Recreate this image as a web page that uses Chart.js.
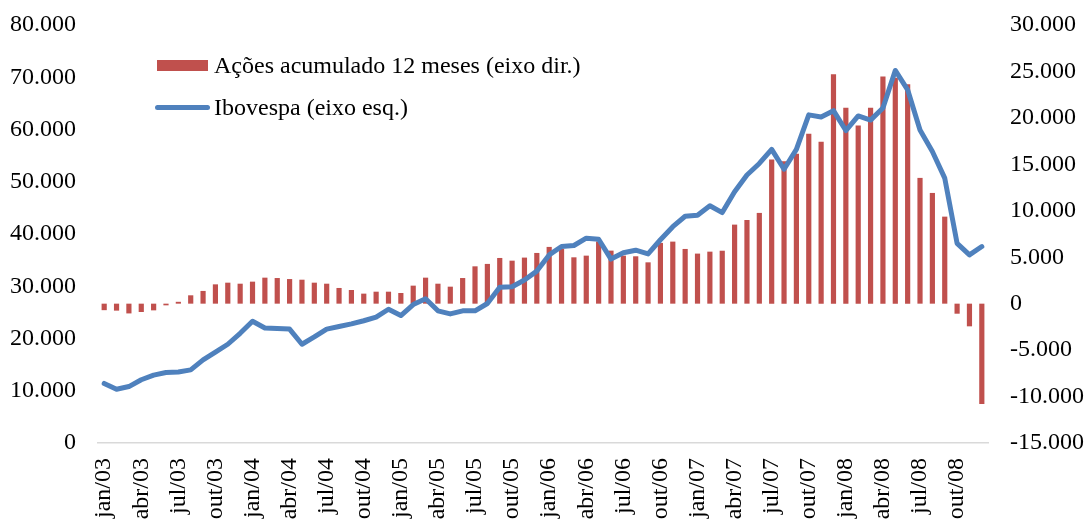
<!DOCTYPE html>
<html>
<head>
<meta charset="utf-8">
<script src="https://cdn.jsdelivr.net/npm/chart.js@4"></script>
<style>
    body { margin: 0; background: #fff; }
    #wrap { position: relative; width: 1090px; height: 520px; }
    .leg { position: absolute; font: 24px "Liberation Serif", "Times New Roman", serif; color: #000; white-space: nowrap; line-height: 24px; }
    .sw { position: absolute; }
</style>
</head>
<body>
<div id="wrap">
    <canvas id="acoesChart" width="1090" height="520"></canvas>
    <div id="legend"></div>
</div>
<script>
// meses jan/03 .. dez/08
const mesesNomes = ['jan', 'fev', 'mar', 'abr', 'mai', 'jun', 'jul', 'ago', 'set', 'out', 'nov', 'dez'];
const anos = ['03', '04', '05', '06', '07', '08'];
const meses = [];
anos.forEach(a => mesesNomes.forEach(m => meses.push(m + '/' + a)));

// Ibovespa (eixo esq.)
const ibovespa = [
    11400, 10300, 10800, 12100, 13000, 13500, 13600, 14000, 15900, 17400, 18900, 21000,
    23300, 22000, 21900, 21800, 18900, 20300, 21800, 22300, 22800, 23400, 24100, 25600,
    24400, 26500, 27600, 25300, 24700, 25300, 25300, 26700, 29800, 29900, 31200, 32900,
    36000, 37600, 37800, 39200, 39000, 35200, 36400, 36900, 36200, 38900, 41400, 43400,
    43600, 45400, 44100, 48100, 51300, 53500, 56200, 52400, 56200, 62800, 62400, 63600,
    59800, 62600, 61800, 64100, 71300, 67600, 59900, 55800, 50700, 38200, 36000, 37600
];

// Ações acumulado 12 meses (eixo dir.)
const acoes12m = [
    -700, -750, -1050, -900, -720, -180, 200, 900, 1370, 2080, 2260, 2150,
    2370, 2800, 2760, 2650, 2580, 2260, 2150, 1690, 1470, 1080, 1290, 1290,
    1150, 1940, 2800, 2150, 1830, 2760, 4020, 4280, 4920, 4630, 4960, 5460,
    6110, 5900, 4990, 5170, 6700, 5710, 5170, 5100, 4450, 6540, 6680, 5890,
    5390, 5600, 5700, 8510, 9010, 9770, 15520, 15340, 16130, 18280, 17420, 24710,
    21100, 19180, 21100, 24460, 24320, 23630, 13540, 11920, 9370, -1080, -2440, -10800
];

const labelAcoes = 'Ações acumulado 12 meses (eixo dir.)';
const labelIbov = 'Ibovespa (eixo esq.)';

const fonte = { family: '"Liberation Serif", "Times New Roman", serif', size: 24 };

function milhar(v) {
    const s = Math.abs(v).toString().replace(/\B(?=(\d{3})+(?!\d))/g, '.');
    return (v < 0 ? '-' : '') + s;
}

// largura fixa do eixo e sem folga extra em cima/baixo
function fixaEixoY(largura) {
    return function (s) {
        s.width = largura;
        s.paddingTop = 0;
        s.paddingBottom = 0;
    };
}

const ctx = document.getElementById('acoesChart').getContext('2d');
const acoesChart = new Chart(ctx, {
    type: 'bar',
    data: {
        labels: meses,
        datasets: [
            {
                type: 'line',
                label: labelIbov,
                data: ibovespa,
                yAxisID: 'yEsq',
                borderColor: '#4F81BD',
                borderWidth: 5,
                borderCapStyle: 'round',
                borderJoinStyle: 'round',
                pointRadius: 0,
                tension: 0,
                fill: false,
                order: 1
            },
            {
                type: 'bar',
                label: labelAcoes,
                data: acoes12m,
                yAxisID: 'yDir',
                backgroundColor: '#C0504D',
                barPercentage: 0.42,
                categoryPercentage: 1,
                order: 2
            }
        ]
    },
    options: {
        responsive: false,
        animation: false,
        layout: { padding: { top: 25, left: 0, right: 0, bottom: 0 } },
        plugins: { legend: { display: false }, tooltip: { enabled: false } },
        scales: {
            x: {
                offset: true,
                grid: { display: false, drawTicks: false },
                border: { display: true, color: '#D9D9D9', width: 1.5 },
                ticks: {
                    autoSkip: false,
                    minRotation: 90,
                    maxRotation: 90,
                    padding: 15,
                    color: '#000',
                    font: fonte,
                    callback: function (v, i) { return i % 3 === 0 ? meses[i] : ''; }
                },
                afterFit: function (s) { s.height = 77; }
            },
            yEsq: {
                position: 'left',
                min: 0,
                max: 80000,
                grid: { display: false, drawTicks: false },
                border: { display: false },
                ticks: { stepSize: 10000, padding: 22, color: '#000', font: fonte, callback: v => milhar(v) },
                afterFit: fixaEixoY(98)
            },
            yDir: {
                position: 'right',
                min: -15000,
                max: 30000,
                grid: { display: false, drawTicks: false },
                border: { display: false },
                ticks: { stepSize: 5000, padding: 22, color: '#000', font: fonte, callback: v => milhar(v) },
                afterFit: fixaEixoY(102)
            }
        }
    }
});

// legenda dentro do gráfico
const legend = document.getElementById('legend');
legend.innerHTML =
    '<div class="sw" style="left:157px;top:60px;width:51px;height:11px;background:' + acoesChart.data.datasets[1].backgroundColor + '"></div>' +
    '<div class="leg" style="left:214px;top:53px">' + labelAcoes + '</div>' +
    '<div class="sw" style="left:155px;top:105px;width:55px;height:5px;border-radius:3px;background:' + acoesChart.data.datasets[0].borderColor + '"></div>' +
    '<div class="leg" style="left:214px;top:95px">' + labelIbov + '</div>';
</script>
</body>
</html>
